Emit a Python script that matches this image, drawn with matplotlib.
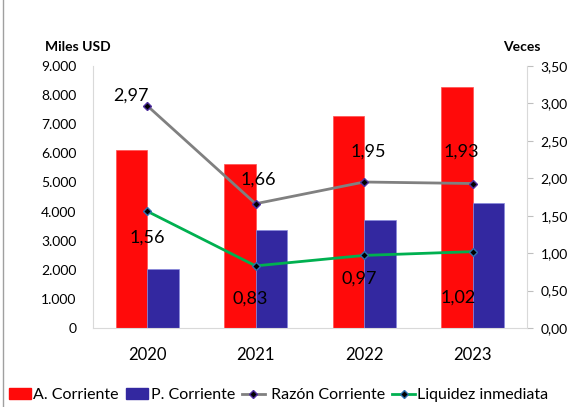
import numpy as np
import matplotlib.pyplot as plt
from matplotlib.lines import Line2D
from matplotlib.patches import Patch

plt.rcParams['font.family'] = ['Lato', 'DejaVu Sans']

years = ['2020', '2021', '2022', '2023']
activo = [6120, 5640, 7290, 8280]
pasivo = [2030, 3370, 3710, 4300]
razon = [2.97, 1.66, 1.95, 1.93]
liquidez = [1.56, 0.83, 0.97, 1.02]

# desplazamientos de etiquetas (px)
off_razon = [(-16, 10), (3, 24), (4, 30), (-11, 32)]
off_liq = [(0, -26), (-5, -33), (-5, -23), (-14, -46)]

fig = plt.figure(figsize=(5.77, 4.07), dpi=100)
ax1 = fig.add_axes([0.161, 0.194, 0.752, 0.644])
x = np.arange(len(years))
w = 0.29
ax1.bar(x - w/2, activo, w, color='#FF0A0A', edgecolor='#FF5050', linewidth=0.5)
ax1.bar(x + w/2, pasivo, w, color='#3328A0', edgecolor='#8888DD', linewidth=0.5)
ax1.set_xlim(-0.5, 3.5)
ax1.set_ylim(0, 9000)
ax1.set_yticks(range(0, 9001, 1000))
ax1.set_yticklabels([f'{v:,}'.replace(',', '.') for v in range(0, 9001, 1000)], fontsize=10)
ax1.set_xticks(x)
ax1.set_xticklabels(years, fontsize=12)
ax1.tick_params(axis='x', length=0, pad=14)
ax1.tick_params(axis='y', length=0, pad=12)
for s in ['top', 'right']:
    ax1.spines[s].set_visible(False)
ax1.spines['left'].set_color('#D9D9D9')
ax1.spines['bottom'].set_color('#D9D9D9')

ax2 = ax1.twinx()
ax2.plot(x, razon, color='#808080', lw=2, marker='D', ms=4, mfc='black', mec='#5030A0')
ax2.plot(x, liquidez, color='#00B050', lw=2, marker='D', ms=4, mfc='black', mec='#3070B0')
ax2.set_ylim(0, 3.5)
ax2.set_yticks(np.arange(0, 3.51, 0.5))
ax2.set_yticklabels([f'{v:.2f}'.replace('.', ',') for v in np.arange(0, 3.51, 0.5)], fontsize=10)
ax2.tick_params(axis='y', length=4, color='#BFBFBF', pad=6)
for s in ['top', 'left', 'bottom']:
    ax2.spines[s].set_visible(False)
ax2.spines['right'].set_color('#D9D9D9')

for i in range(len(years)):
    ax2.annotate(f'{razon[i]:.2f}'.replace('.', ','), (x[i], razon[i]),
                 xytext=(off_razon[i][0]*0.72, off_razon[i][1]*0.72), textcoords='offset points',
                 ha='center', va='center', fontsize=13)
    ax2.annotate(f'{liquidez[i]:.2f}'.replace('.', ','), (x[i], liquidez[i]),
                 xytext=(off_liq[i][0]*0.72, off_liq[i][1]*0.72), textcoords='offset points',
                 ha='center', va='center', fontsize=13)

fig.text(78/577, 1 - 47/407, 'Miles USD', ha='center', va='center', fontsize=10, fontweight='bold')
fig.text(522/577, 1 - 47/407, 'Veces', ha='center', va='center', fontsize=10, fontweight='bold')

handles = [Patch(color='#FF0A0A'), Patch(color='#3328A0'),
           Line2D([], [], color='#808080', lw=2, marker='D', ms=4, mfc='black', mec='#5030A0'),
           Line2D([], [], color='#00B050', lw=2, marker='D', ms=4, mfc='black', mec='#3070B0')]
labels = ['A. Corriente', 'P. Corriente', ' Razón Corriente', 'Liquidez inmediata']
fig.legend(handles, labels, loc='center left', bbox_to_anchor=(0.015, 1 - 395/407), ncol=4,
           frameon=False, fontsize=11.5, handlelength=1.4, handletextpad=0.15, columnspacing=0.45,
           borderpad=0, borderaxespad=0)

fig.add_artist(Line2D([3/577, 3/577], [0, 1], color='#A0A0A0', lw=1))

fig.savefig('out.png', dpi=100)
